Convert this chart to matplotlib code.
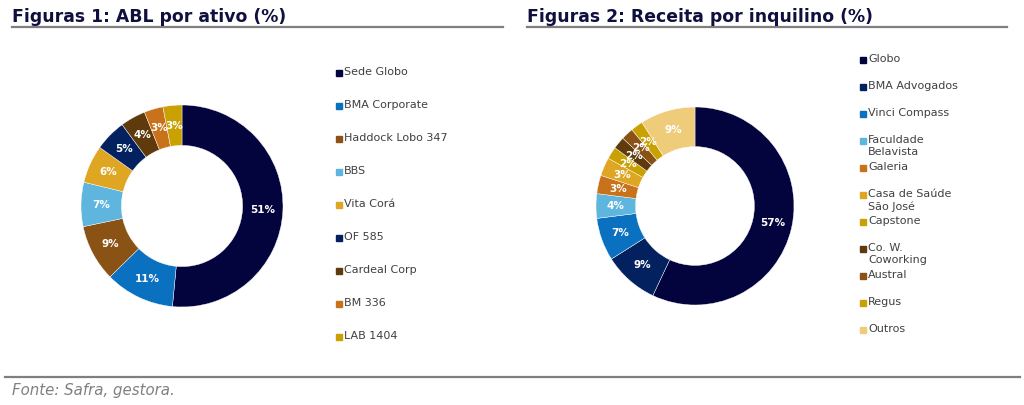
import matplotlib.pyplot as plt
from matplotlib.patches import Rectangle

# data
abl_labels = ["Sede Globo", "BMA Corporate", "Haddock Lobo 347", "BBS", "Vita Corá",
              "OF 585", "Cardeal Corp", "BM 336", "LAB 1404"]
abl_values = [51, 11, 9, 7, 6, 5, 4, 3, 3]
abl_colors = ["#03033d", "#0a70c0", "#8a5214", "#5eb5dd", "#dea623",
              "#04215f", "#5e3a0c", "#c8731b", "#c9a103"]

rec_labels = ["Globo", "BMA Advogados", "Vinci Compass", "Faculdade\nBelavista", "Galeria",
              "Casa de Saúde\nSão José", "Capstone", "Co. W.\nCoworking", "Austral", "Regus", "Outros"]
rec_values = [57, 9, 7, 4, 3, 3, 2, 2, 2, 2, 9]
rec_colors = ["#03033d", "#04215f", "#0a70c0", "#5eb5dd", "#c8731b", "#dea623",
              "#c9a103", "#5e3a0c", "#8a5214", "#c9a103", "#efcc7a"]

W, H = 1024, 405
plt.rcParams['font.family'] = ['DejaVu Sans']
fig = plt.figure(figsize=(W / 100, H / 100), dpi=100)

navy = "#10103f"


def px(x, y):
    return x / W, 1 - y / H


def donut(cx, cy, r, values, colors):
    ax = fig.add_axes([(cx - r) / W, (H - cy - r) / H, 2 * r / W, 2 * r / H])
    total = sum(values)
    ax.pie(values, colors=colors, startangle=90, counterclock=False,
           wedgeprops=dict(width=0.4, edgecolor="white", linewidth=0.3),
           autopct=lambda p: f"{p * total / 100:.0f}%", pctdistance=0.8,
           textprops=dict(color="white", fontsize=7.5, fontweight="bold"))
    ax.set_xlim(-1, 1)
    ax.set_ylim(-1, 1)
    ax.set_aspect("equal")
    ax.axis("off")
    return ax


def legend(x, ys, labels, colors):
    for y, lab, col in zip(ys, labels, colors):
        fig.add_artist(Rectangle(px(x, y + 3), 6 / W, 6 / H, color=col,
                                 transform=fig.transFigure))
        fig.text(*px(x + 8, y - 6), lab, color="#404040", fontsize=8, va="top", ha="left",
                 linespacing=1.3)


# titles and rules
fig.text(*px(12, 17), "Figuras 1: ABL por ativo (%)", fontsize=12.4, fontweight="bold",
         color=navy, va="center", ha="left")
fig.text(*px(527, 17), "Figuras 2: Receita por inquilino (%)", fontsize=12.4, fontweight="bold",
         color=navy, va="center", ha="left")
fig.add_artist(plt.Line2D([12 / W, 503 / W], [1 - 27 / H] * 2, color="#7f7f7f", lw=1.6))
fig.add_artist(plt.Line2D([527 / W, 1007 / W], [1 - 27 / H] * 2, color="#7f7f7f", lw=1.6))
fig.add_artist(plt.Line2D([5 / W, 1020 / W], [1 - 377 / H] * 2, color="#7f7f7f", lw=1.6))
fig.text(*px(12, 390), "Fonte: Safra, gestora.", fontsize=10.8, style="italic",
         color="#808080", va="center", ha="left")

donut(182, 206, 101, abl_values, abl_colors)
donut(695, 206, 99, rec_values, rec_colors)

legend(336, [73 + 33 * i for i in range(len(abl_labels))], abl_labels, abl_colors)
legend(860, [60 + 27 * i for i in range(len(rec_labels))], rec_labels, rec_colors)

fig.savefig("out.png", dpi=100, facecolor="white")
